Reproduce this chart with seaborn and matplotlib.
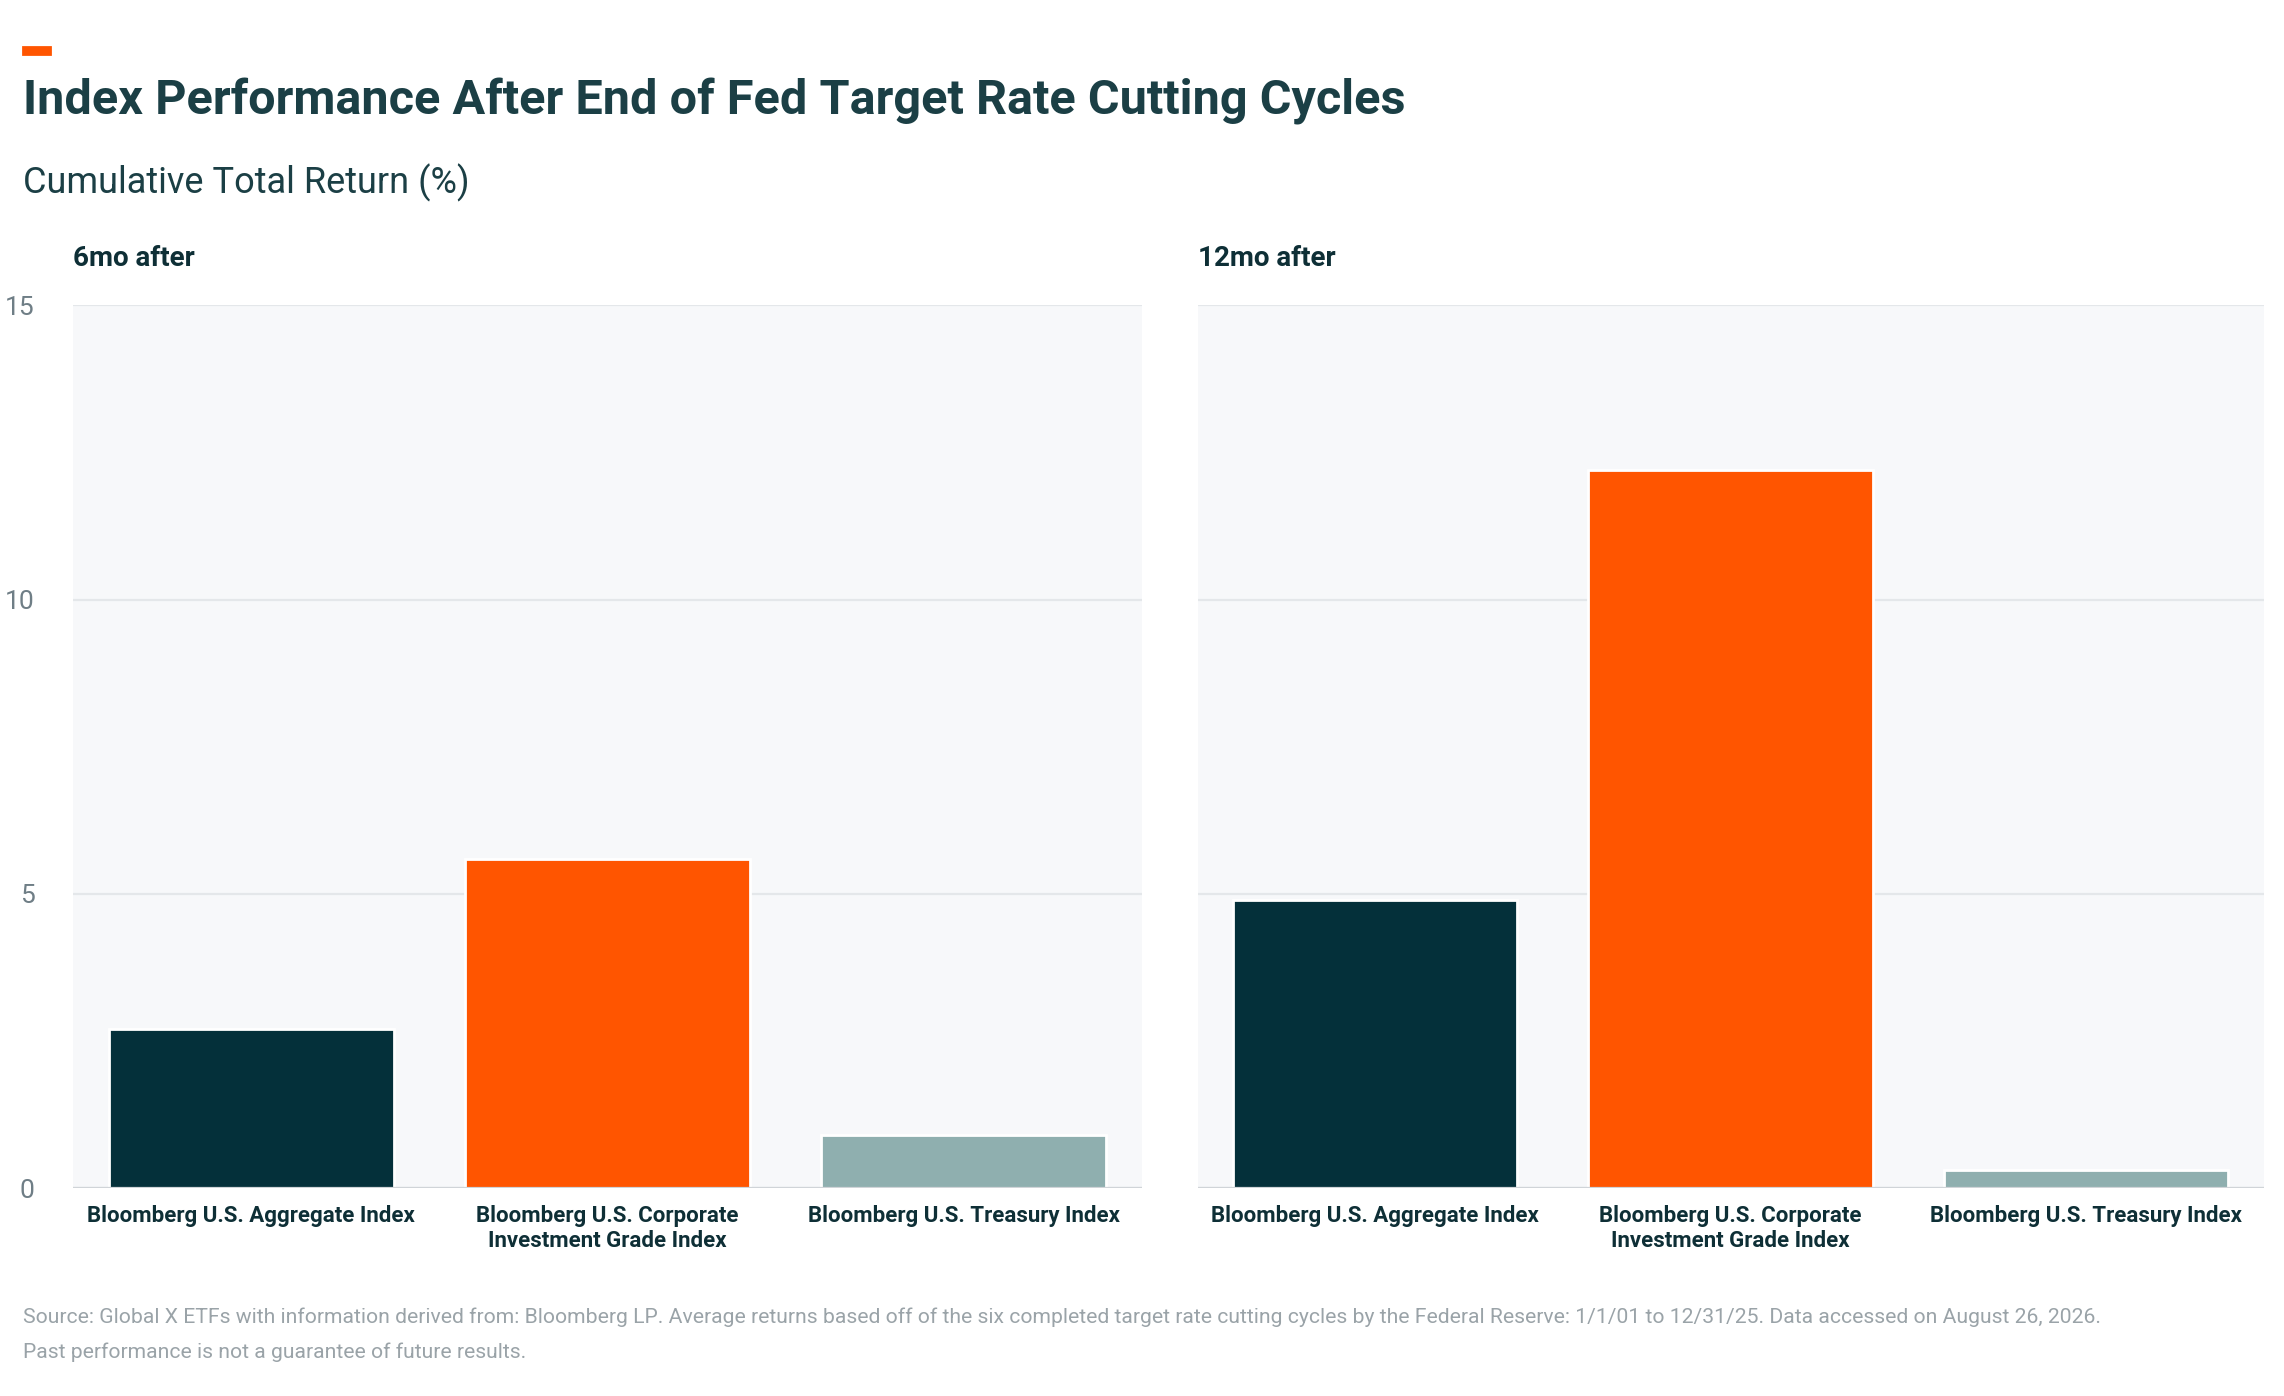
import matplotlib
matplotlib.use("Agg")
import matplotlib.pyplot as plt
import seaborn as sns
import pandas as pd

categories = ["Bloomberg U.S. Aggregate Index", "Bloomberg U.S. Corporate\nInvestment Grade Index", "Bloomberg U.S. Treasury Index"]
six_mo = [2.7, 5.6, 0.9]
twelve_mo = [4.9, 12.2, 0.3]
panel_titles = ["6mo after", "12mo after"]
colors = ["#04303A", "#FF5500", "#8FAFAF"]

sns.set_theme(style="white")
plt.rcParams['font.family'] = ['Roboto', 'DejaVu Sans']

fig = plt.figure(figsize=(11.42, 6.98), dpi=200)
W, H = 1560, 960
axes = [fig.add_axes([50/W, 1-817/H, 730/W, 607/H]), fig.add_axes([818/W, 1-817/H, 728/W, 607/H])]
for ax, vals, t in zip(axes, [six_mo, twelve_mo], panel_titles):
    df = pd.DataFrame({"cat": categories, "val": vals})
    sns.barplot(data=df, x="cat", y="val", hue="cat", palette=colors, ax=ax, width=0.8, legend=False, saturation=1)
    ax.set_facecolor("#F7F8FA")
    ax.set_ylim(0, 15)
    ax.set_yticks([0, 5, 10, 15])
    ax.yaxis.grid(True, color="#E4E7EA", lw=0.8)
    ax.set_axisbelow(True)
    for s in ax.spines.values():
        s.set_visible(False)
    ax.axhline(0, color="#D0D4D8", lw=0.8)
    ax.set_xlabel(""); ax.set_ylabel("")
    ax.tick_params(axis="x", length=0, labelsize=8, pad=6)
    for lab in ax.get_xticklabels():
        lab.set_fontweight("bold"); lab.set_color("#0E2F36")
    ax.tick_params(axis="y", length=0, labelsize=9.5, labelcolor="#6F7E86", pad=14)
    ax.text(0, 1.045, t, transform=ax.transAxes, fontsize=10, fontweight="bold", color="#0E2F36")
axes[1].set_yticklabels([])

fig.patches.append(plt.Rectangle((16/W, 1-37/H), 18/W, 5/H, transform=fig.transFigure, color="#FF5500"))
fig.text(16/W, 1-70/H, "Index Performance After End of Fed Target Rate Cutting Cycles", fontsize=17.5, fontweight="bold", color="#1B3F45", va="center")
fig.text(16/W, 1-126/H, "Cumulative Total Return (%)", fontsize=13, color="#1B3F45", va="center")
fig.text(16/W, 1-906/H, "Source: Global X ETFs with information derived from: Bloomberg LP. Average returns based off of the six completed target rate cutting cycles by the Federal Reserve: 1/1/01 to 12/31/25. Data accessed on August 26, 2026.", fontsize=7.6, color="#9AA3A8", va="center")
fig.text(16/W, 1-930/H, "Past performance is not a guarantee of future results.", fontsize=7.6, color="#9AA3A8", va="center")
fig.savefig("out.png", dpi=200, facecolor="white")
